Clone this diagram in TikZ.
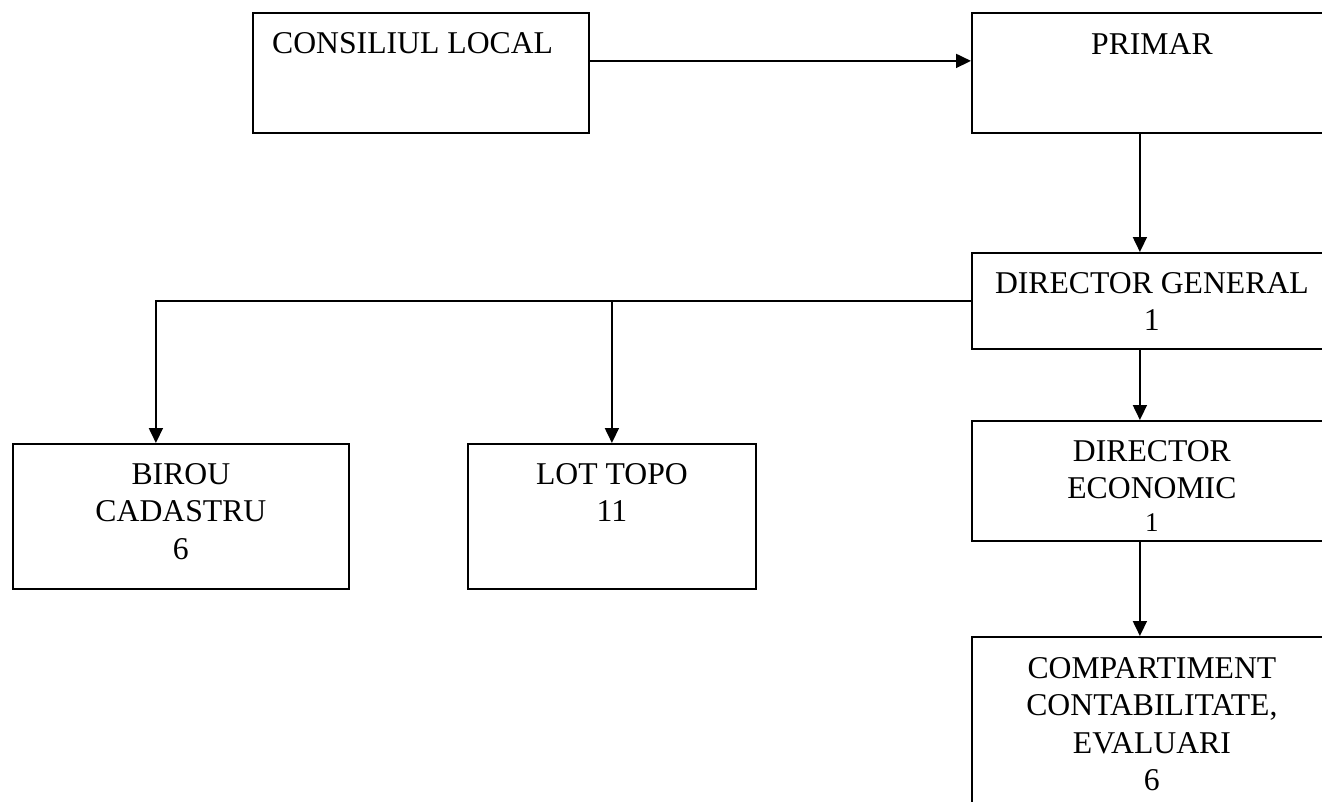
\documentclass[tikz,border=0pt]{standalone}
\usepackage{fontspec}
\setmainfont{Liberation Serif}
\usetikzlibrary{arrows.meta}
\begin{document}
\begin{tikzpicture}[x=1pt,y=-1pt,
  box/.style={draw, line width=1.8pt, rectangle, inner sep=0pt, anchor=north west},
  lbl/.style={anchor=north, inner sep=0pt, align=center, font=\fontsize{31.7}{37.5}\selectfont},
  arr/.style={line width=1.8pt, -{Triangle[length=15pt,width=14pt]}}]
\useasboundingbox (0,0) rectangle (1322,801);
\clip (0,0) rectangle (1322,801);
% boxes
\node[box, minimum width=336pt, minimum height=120pt] (cl) at (252,12) {};
\node[box, minimum width=360pt, minimum height=120pt] (pr) at (971,12) {};
\node[box, minimum width=360pt, minimum height=96pt] (dg) at (971,252) {};
\node[box, minimum width=360pt, minimum height=120pt] (de) at (971,420) {};
\node[box, minimum width=336pt, minimum height=145pt] (bc) at (12,443) {};
\node[box, minimum width=288pt, minimum height=145pt] (lt) at (467,443) {};
\node[box, minimum width=360pt, minimum height=210pt] (co) at (971,636) {};
% labels
\node[lbl, anchor=north west] (cltxt) at ([xshift=20pt,yshift=-20pt]cl.north west) {CONSILIUL LOCAL};
\node[lbl] (prtxt) at ([yshift=-21pt]pr.north) {PRIMAR};
\node[lbl] (dgtxt) at ([yshift=-20pt]dg.north) {DIRECTOR GENERAL\\1};
\node[lbl] (detxt) at ([yshift=-20pt]de.north) {DIRECTOR\\ECONOMIC\\[-5pt]{\fontsize{27}{27}\selectfont 1}};
\node[lbl] (bctxt) at ([yshift=-20pt]bc.north) {BIROU\\CADASTRU\\6};
\node[lbl] (lttxt) at ([yshift=-20pt]lt.north) {LOT TOPO\\11};
\node[lbl] (cotxt) at ([yshift=-21pt]co.north) {COMPARTIMENT\\CONTABILITATE,\\EVALUARI\\6};
% connectors
\draw[arr] ([yshift=12pt]cl.east) -- ([yshift=12pt]pr.west);
\draw[arr] ([xshift=-12pt]pr.south) -- ([xshift=-12pt]dg.north);
\draw[arr] (dg.west) -| ([xshift=-25pt]bc.north);
\draw[arr] (lt.north |- dg.west) -- (lt.north);
\draw[arr] ([xshift=-12pt]dg.south) -- ([xshift=-12pt]de.north);
\draw[arr] ([xshift=-12pt]de.south) -- ([xshift=-12pt]co.north);
\end{tikzpicture}
\end{document}
